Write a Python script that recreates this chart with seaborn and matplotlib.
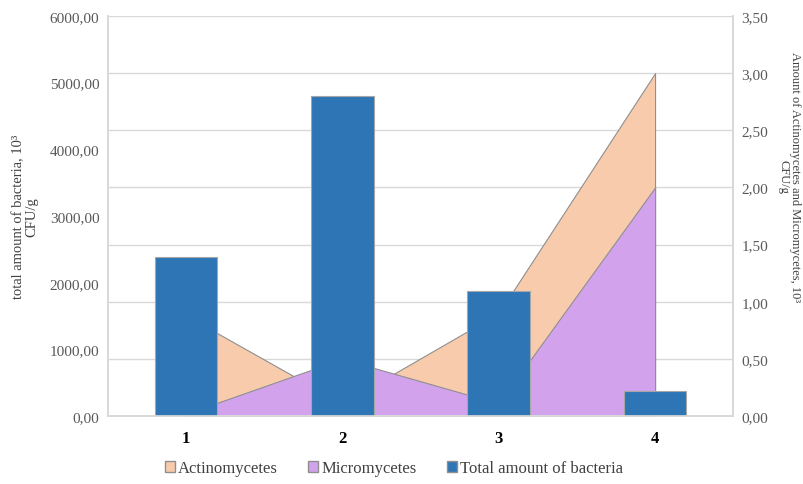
import matplotlib
matplotlib.use('Agg')
import matplotlib.pyplot as plt
import matplotlib.ticker as mticker
from matplotlib.patches import Patch
import seaborn as sns
import pandas as pd
import numpy as np

# samples on the x axis
samples = ['1', '2', '3', '4']
# total amount of bacteria, 10^3 CFU/g (left axis, bars)
total_bacteria = [2390, 4800, 1880, 370]
# actinomycetes and micromycetes, 10^3 CFU/g (right axis, areas)
actinomycetes = [0.88, 0.11, 0.90, 3.00]
micromycetes = [0.02, 0.50, 0.11, 2.00]

df = pd.DataFrame({'sample': samples, 'total': total_bacteria,
                   'actino': actinomycetes, 'micro': micromycetes})

sns.set_theme(style='white')
plt.rcParams['font.family'] = ['Liberation Serif', 'DejaVu Serif']

c_actino = '#F8CBAD'
c_micro = '#D2A3EC'
c_total = '#2E75B6'
edge = '#8f8f8f'

fig, ax = plt.subplots(figsize=(8.04, 4.85), dpi=100)
fig.subplots_adjust(left=0.134, right=0.912, top=0.965, bottom=0.14)
ax2 = ax.twinx()

# areas (overlapping, not stacked) on the right axis, behind bars
xpos = np.arange(len(samples))
ax2.fill_between(xpos, df['actino'], color=c_actino, edgecolor=edge, linewidth=0.8)
ax2.fill_between(xpos, df['micro'], color=c_micro, edgecolor=edge, linewidth=0.8)
ax2.set_ylim(0, 3.5)
ax2.yaxis.set_major_locator(mticker.MultipleLocator(0.5))
ax2.yaxis.set_major_formatter(mticker.FuncFormatter(lambda v, p: f'{v:.2f}'.replace('.', ',')))
ax2.yaxis.grid(True, color='#d9d9d9', linewidth=1)
ax2.set_axisbelow(True)
ax2.set_ylabel('Amount of Actinomycetes and Micromycetes, 10³\nCFU/g',
               rotation=270, fontsize=9, color='#404040', linespacing=1.0)
ax2.yaxis.set_label_coords(1.109, 0.6)

# bars on the left axis, in front
ax.set_zorder(ax2.get_zorder() + 1)
ax.patch.set_visible(False)
sns.barplot(data=df, x='sample', y='total', color=c_total, saturation=1,
            width=0.4, edgecolor='#a6a6a6', linewidth=0.8, ax=ax)
ax.set_xlim(-0.5, 3.5)
ax.set_ylim(0, 6000)
ax.yaxis.set_major_locator(mticker.MultipleLocator(1000))
ax.yaxis.set_major_formatter(mticker.FuncFormatter(lambda v, p: f'{v:.2f}'.replace('.', ',')))
ax.set_xlabel('')
ax.set_ylabel('total amount of bacteria, 10³\nCFU/g', fontsize=10.5, color='#404040',
              labelpad=8, linespacing=1.0)

for a in (ax, ax2):
    a.tick_params(axis='y', colors='#595959', labelsize=11, length=0, pad=6)
    for s in ('left', 'right', 'bottom'):
        a.spines[s].set_color('#d9d9d9')
    a.spines['top'].set_visible(False)
ax.tick_params(axis='x', length=0, pad=10)
for t in ax.get_xticklabels():
    t.set_fontweight('bold')
    t.set_fontsize(12)
    t.set_color('black')

handles = [Patch(facecolor=c_actino, edgecolor=edge, label='Actinomycetes'),
           Patch(facecolor=c_micro, edgecolor=edge, label='Micromycetes'),
           Patch(facecolor=c_total, edgecolor=edge, label='Total amount of bacteria')]
leg = fig.legend(handles=handles, loc='lower center', bbox_to_anchor=(0.49, -0.015), ncol=3,
                 frameon=False, fontsize=12, handlelength=0.6, handleheight=0.6,
                 handletextpad=0.2, columnspacing=1.8)
for t in leg.get_texts():
    t.set_color('#404040')

plt.savefig('out.png', dpi=100)
